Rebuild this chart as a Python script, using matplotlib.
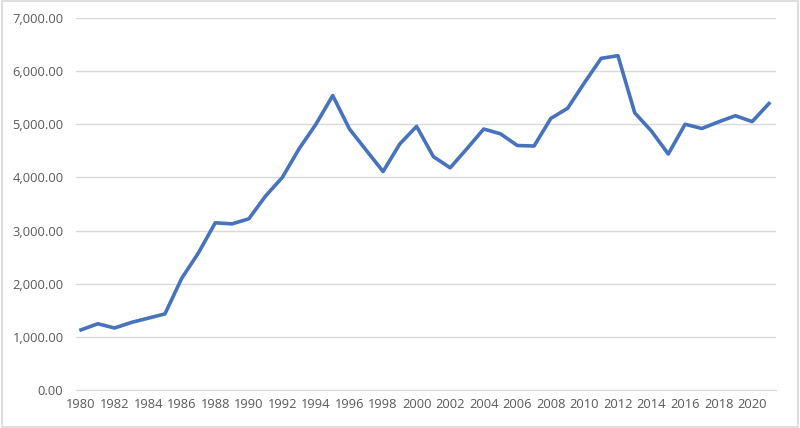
import matplotlib.pyplot as plt
from matplotlib.ticker import FuncFormatter

# values
years = list(range(1980, 2022))
values = [1130, 1245, 1165, 1270, 1350, 1430, 2100, 2580, 3145, 3125,
          3220, 3650, 4000, 4540, 5000, 5540, 4910, 4510, 4110, 4630,
          4960, 4390, 4180, 4540, 4910, 4820, 4600, 4590, 5110, 5300,
          5780, 6240, 6290, 5215, 4870, 4440, 5000, 4920, 5045, 5160,
          5050, 5390]
x_labels = list(range(1980, 2021, 2))
y_ticks = [0, 1000, 2000, 3000, 4000, 5000, 6000, 7000]

plt.rcParams['font.family'] = ['Open Sans', 'DejaVu Sans']

fig = plt.figure(figsize=(8, 4.28), dpi=100)
ax = fig.add_axes([0.095, 0.089, 0.875, 0.869])

ax.plot(years, values, color='#4672BE', linewidth=2.6, solid_joinstyle='round')

ax.set_ylim(0, 7000)
ax.set_xlim(1979.7, 2021.42)
ax.set_yticks(y_ticks)
ax.yaxis.set_major_formatter(FuncFormatter(lambda v, p: f'{v:,.2f}'))
ax.set_xticks(x_labels)
ax.grid(axis='y', color='#D9D9D9', linewidth=1)
ax.set_axisbelow(True)
for s in ['top', 'right', 'left']:
    ax.spines[s].set_visible(False)
ax.spines['bottom'].set_color('#D9D9D9')
ax.tick_params(length=0, colors='#595959', labelsize=9.3)
ax.tick_params(axis='x', pad=6)
ax.tick_params(axis='y', pad=9)

# light frame around the chart area
fig.patches.append(plt.Rectangle((0.002, 0.003), 0.996, 0.994, transform=fig.transFigure,
                                 fill=False, edgecolor='#D9D9D9', linewidth=1.2))

fig.savefig('out.png', dpi=100)
